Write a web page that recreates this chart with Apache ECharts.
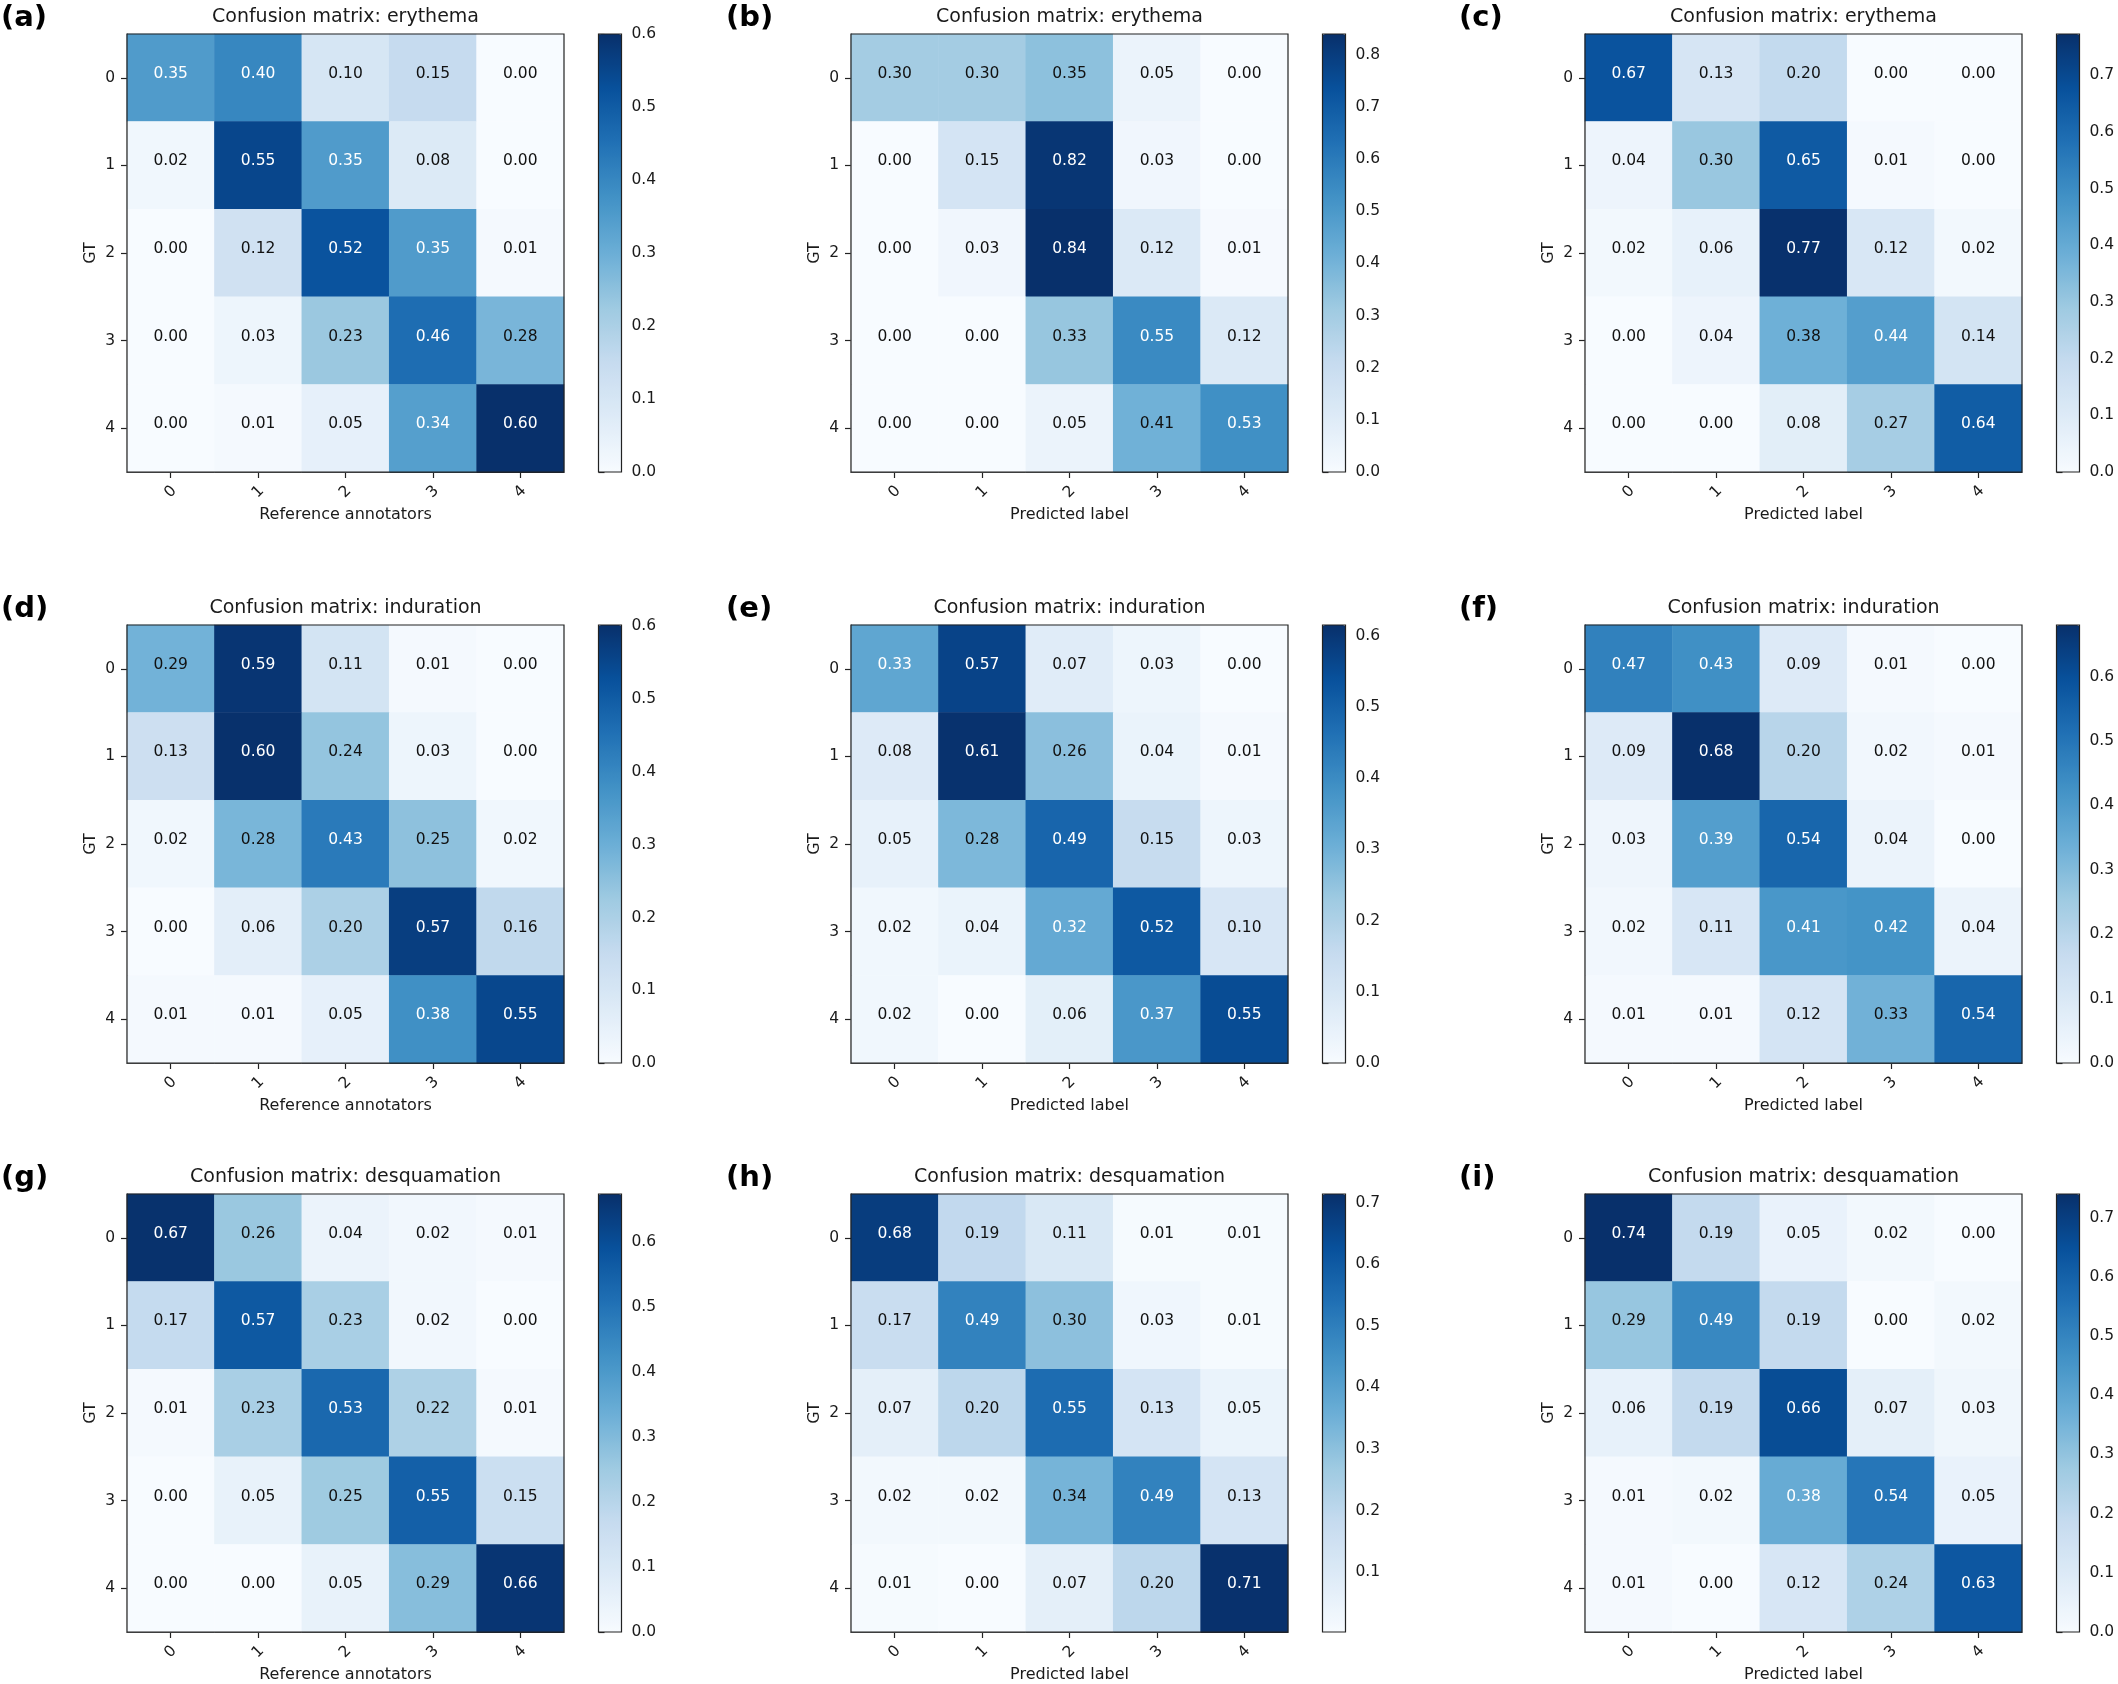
<!DOCTYPE html>
<html><head><meta charset="utf-8">
<script src="https://cdn.jsdelivr.net/npm/echarts@6/dist/echarts.min.js"></script>
<style>html,body{margin:0;padding:0;background:#fff}#c{width:2118px;height:1684px}</style>
</head><body><div id="c"></div>
<script>
// ---------- data ----------
const classes = ['0', '1', '2', '3', '4'];
const panelLetters = ['(a)', '(b)', '(c)', '(d)', '(e)', '(f)', '(g)', '(h)', '(i)'];
const panelTitles = [
  'Confusion matrix: erythema', 'Confusion matrix: erythema', 'Confusion matrix: erythema',
  'Confusion matrix: induration', 'Confusion matrix: induration', 'Confusion matrix: induration',
  'Confusion matrix: desquamation', 'Confusion matrix: desquamation', 'Confusion matrix: desquamation'
];
const xAxisNames = [
  'Reference annotators', 'Predicted label', 'Predicted label',
  'Reference annotators', 'Predicted label', 'Predicted label',
  'Reference annotators', 'Predicted label', 'Predicted label'
];
const yAxisName = 'GT';

const cmA = [[0.35,0.40,0.10,0.15,0.00],[0.02,0.55,0.35,0.08,0.00],[0.00,0.12,0.52,0.35,0.01],[0.00,0.03,0.23,0.46,0.28],[0.00,0.01,0.05,0.34,0.60]];
const cmB = [[0.30,0.30,0.35,0.05,0.00],[0.00,0.15,0.82,0.03,0.00],[0.00,0.03,0.84,0.12,0.01],[0.00,0.00,0.33,0.55,0.12],[0.00,0.00,0.05,0.41,0.53]];
const cmC = [[0.67,0.13,0.20,0.00,0.00],[0.04,0.30,0.65,0.01,0.00],[0.02,0.06,0.77,0.12,0.02],[0.00,0.04,0.38,0.44,0.14],[0.00,0.00,0.08,0.27,0.64]];
const cmD = [[0.29,0.59,0.11,0.01,0.00],[0.13,0.60,0.24,0.03,0.00],[0.02,0.28,0.43,0.25,0.02],[0.00,0.06,0.20,0.57,0.16],[0.01,0.01,0.05,0.38,0.55]];
const cmE = [[0.33,0.57,0.07,0.03,0.00],[0.08,0.61,0.26,0.04,0.01],[0.05,0.28,0.49,0.15,0.03],[0.02,0.04,0.32,0.52,0.10],[0.02,0.00,0.06,0.37,0.55]];
const cmF = [[0.47,0.43,0.09,0.01,0.00],[0.09,0.68,0.20,0.02,0.01],[0.03,0.39,0.54,0.04,0.00],[0.02,0.11,0.41,0.42,0.04],[0.01,0.01,0.12,0.33,0.54]];
const cmG = [[0.67,0.26,0.04,0.02,0.01],[0.17,0.57,0.23,0.02,0.00],[0.01,0.23,0.53,0.22,0.01],[0.00,0.05,0.25,0.55,0.15],[0.00,0.00,0.05,0.29,0.66]];
const cmH = [[0.68,0.19,0.11,0.01,0.01],[0.17,0.49,0.30,0.03,0.01],[0.07,0.20,0.55,0.13,0.05],[0.02,0.02,0.34,0.49,0.13],[0.01,0.00,0.07,0.20,0.71]];
const cmI = [[0.74,0.19,0.05,0.02,0.00],[0.29,0.49,0.19,0.00,0.02],[0.06,0.19,0.66,0.07,0.03],[0.01,0.02,0.38,0.54,0.05],[0.01,0.00,0.12,0.24,0.63]];
const matrices = [cmA, cmB, cmC, cmD, cmE, cmF, cmG, cmH, cmI];

const colorbarMin = [0, 0, 0, 0, 0, 0, 0, 0.003, 0];
const colorbarMax = [0.60, 0.84, 0.773, 0.602, 0.615, 0.68, 0.674, 0.714, 0.74];
const colorbarTicks = [
  [0.0,0.1,0.2,0.3,0.4,0.5,0.6],
  [0.0,0.1,0.2,0.3,0.4,0.5,0.6,0.7,0.8],
  [0.0,0.1,0.2,0.3,0.4,0.5,0.6,0.7],
  [0.0,0.1,0.2,0.3,0.4,0.5,0.6],
  [0.0,0.1,0.2,0.3,0.4,0.5,0.6],
  [0.0,0.1,0.2,0.3,0.4,0.5,0.6],
  [0.0,0.1,0.2,0.3,0.4,0.5,0.6],
  [0.1,0.2,0.3,0.4,0.5,0.6,0.7],
  [0.0,0.1,0.2,0.3,0.4,0.5,0.6,0.7]
];
const blues = ['#f7fbff','#deebf7','#c6dbef','#9ecae1','#6baed6','#4292c6','#2171b5','#08519c','#08306b'];

// ---------- layout ----------
const FONT = "'DejaVu Sans', sans-serif";
const colLeft = [127, 851, 1585];
const rowTop = [34, 625, 1194];
const letterX = [1, 726, 1459];
const plotW = 437, plotH = 438;
const cbOffset = 471.5, cbW = 23;
const ink = '#1a1a1a';

const option = {
  backgroundColor: '#fff',
  animation: false,
  title: [], grid: [], xAxis: [], yAxis: [], series: [], visualMap: []
};

matrices.forEach((cm, i) => {
  const r = Math.floor(i / 3), c = i % 3;
  const left = colLeft[c], top = rowTop[r];
  const vmin = colorbarMin[i], vmax = colorbarMax[i];
  const thresh = vmax / 2;

  option.title.push({
    text: panelTitles[i], left: left + plotW / 2, top: top - 17, padding: 0,
    textAlign: 'center', textVerticalAlign: 'middle',
    textStyle: { fontFamily: FONT, fontSize: 19, fontWeight: 'normal', color: ink }
  });
  option.title.push({
    text: panelLetters[i], left: letterX[c], top: top - 16, padding: 0,
    textAlign: 'left', textVerticalAlign: 'middle',
    textStyle: { fontFamily: FONT, fontSize: 29, fontWeight: 'bold', color: '#000' }
  });

  // heatmap grid
  const gHeat = option.grid.length;
  option.grid.push({ left: left, top: top, width: plotW, height: plotH, show: true,
    borderColor: '#222', borderWidth: 1.2, backgroundColor: 'transparent', z: 10, outerBoundsMode: 'none' });
  option.xAxis.push({
    type: 'category', gridIndex: gHeat, data: classes, position: 'bottom',
    name: xAxisNames[i], nameLocation: 'middle', nameGap: 35,
    nameTextStyle: { fontFamily: FONT, fontSize: 16, color: ink },
    axisLine: { show: true, lineStyle: { color: '#222', width: 1.2 } },
    axisTick: { show: true, alignWithLabel: true, length: 6, lineStyle: { color: '#222', width: 1.2 } },
    axisLabel: { rotate: 45, align: 'center', verticalAlign: 'middle', margin: 20,
      fontFamily: FONT, fontSize: 15.5, color: ink },
    splitLine: { show: false }, splitArea: { show: false }
  });
  option.yAxis.push({
    type: 'category', gridIndex: gHeat, data: classes, inverse: true,
    name: yAxisName, nameLocation: 'middle', nameGap: 28,
    nameTextStyle: { fontFamily: FONT, fontSize: 16, color: ink },
    axisLine: { show: true, lineStyle: { color: '#222', width: 1.2 } },
    axisTick: { show: true, alignWithLabel: true, length: 6, lineStyle: { color: '#222', width: 1.2 } },
    axisLabel: { margin: 12, fontFamily: FONT, fontSize: 15.5, color: ink },
    splitLine: { show: false }, splitArea: { show: false }
  });
  const data = [];
  cm.forEach((row, ri) => row.forEach((v, ci) => {
    data.push({ value: [ci, ri, v], label: { color: v > thresh ? '#ffffff' : '#111111' } });
  }));
  const sIdx = option.series.length;
  option.series.push({
    type: 'heatmap', xAxisIndex: gHeat, yAxisIndex: gHeat, data: data,
    label: { show: true, fontFamily: FONT, fontSize: 15.5, offset: [0, -4],
      formatter: p => p.value[2].toFixed(2) },
    emphasis: { disabled: true }, progressive: 0
  });
  option.visualMap.push({
    type: 'continuous', seriesIndex: sIdx, dimension: 2, min: vmin, max: vmax,
    calculable: false, orient: 'vertical', left: left + cbOffset, top: top,
    itemWidth: cbW, itemHeight: plotH, padding: 0, text: null, showLabel: false,
    hoverLink: false, inRange: { color: blues }, outOfRange: { color: blues[0] }, z: 4
  });

  // colorbar frame + ticks
  const gCb = option.grid.length;
  option.grid.push({ left: left + cbOffset, top: top, width: cbW, height: plotH, show: true,
    borderColor: '#222', borderWidth: 1.2, backgroundColor: 'transparent', z: 10, outerBoundsMode: 'none' });
  option.xAxis.push({ type: 'value', gridIndex: gCb, min: 0, max: 1, show: false });
  option.yAxis.push({
    type: 'value', gridIndex: gCb, position: 'right', min: vmin, max: vmax,
    axisLine: { show: false },
    axisTick: { show: true, length: 6, inside: false, customValues: colorbarTicks[i], lineStyle: { color: '#222', width: 1.2 } },
    axisLabel: { show: true, margin: 10, customValues: colorbarTicks[i], showMinLabel: true, showMaxLabel: true,
      formatter: v => Number(v).toFixed(1), fontFamily: FONT, fontSize: 15.5, color: ink },
    splitLine: { show: false }
  });
});

const chart = echarts.init(document.getElementById('c'), null, { renderer: 'canvas', width: 2118, height: 1684 });
chart.setOption(option);
</script>
</body></html>
